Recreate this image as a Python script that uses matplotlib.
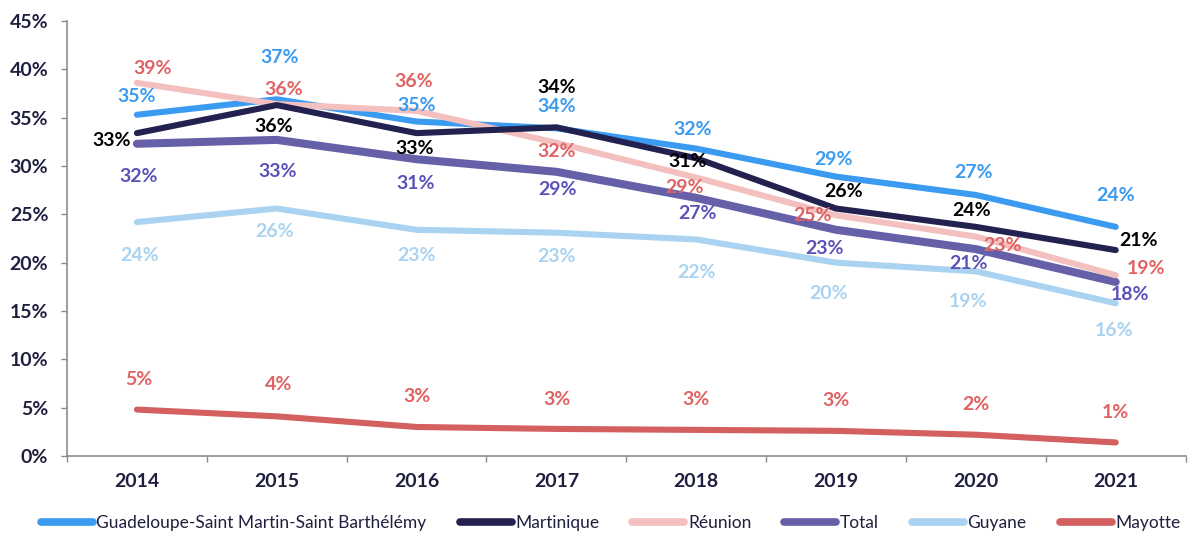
import numpy as np
import matplotlib
matplotlib.use("Agg")
import matplotlib.pyplot as plt
from matplotlib.lines import Line2D

years = ["2014", "2015", "2016", "2017", "2018", "2019", "2020", "2021"]

guadeloupe = [35.3, 36.9, 34.6, 33.9, 31.8, 28.9, 27.0, 23.7]
martinique = [33.4, 36.3, 33.4, 34.0, 30.8, 25.6, 23.7, 21.3]
reunion = [38.6, 36.4, 35.7, 32.4, 28.8, 24.9, 22.7, 18.7]
total = [32.3, 32.7, 30.7, 29.4, 26.7, 23.4, 21.4, 18.0]
guyane = [24.2, 25.6, 23.4, 23.1, 22.4, 20.0, 19.1, 15.8]
mayotte = [4.8, 4.1, 3.0, 2.8, 2.7, 2.6, 2.2, 1.4]

series_names = ["Guadeloupe-Saint Martin-Saint Barthélémy", "Martinique", "Réunion",
                "Total", "Guyane", "Mayotte"]

# style: line colour, label colour, line width, z-order
styles = {
    "Guadeloupe-Saint Martin-Saint Barthélémy": ("#3A9BF0", "#3A9BF0", 4.4, 3),
    "Martinique": ("#22214F", "#000000", 4.4, 5),
    "Réunion": ("#F4BFBF", "#E06262", 4.4, 4),
    "Total": ("#6560A8", "#5B52B8", 5.8, 2),
    "Guyane": ("#A9D3F0", "#A9D3F0", 4.4, 2),
    "Mayotte": ("#D45F5F", "#E06262", 4.4, 2),
}

# label offsets in pixels from each point
offsets = {
    "Guadeloupe-Saint Martin-Saint Barthélémy": [(0, 18), (3, 42), (0, 16), (0, 22), (-4, 19), (-3, 17), (-2, 22), (0, 31)],
    "Martinique": [(-25, -7), (-3, -21), (-2, -15), (0, 40), (-9, -3), (8, 17), (-4, 16), (23, 10)],
    "Réunion": [(16, 14), (7, 15), (-3, 29), (0, -9), (-12, -10), (-24, 0), (27, -9), (30, 7)],
    "Total": [(2, -33), (1, -32), (-1, -24), (1, -18), (1, -16), (-12, -19), (-7, -14), (14, -13)],
    "Guyane": [(3, -33), (-2, -23), (0, -26), (0, -24), (0, -33), (-7, -31), (-8, -30), (-2, -27)],
    "Mayotte": [(2, 30), (2, 32), (0, 30), (1, 29), (0, 30), (0, 30), (0, 30), (0, 30)],
}

data = dict(zip(series_names, [guadeloupe, martinique, reunion, total, guyane, mayotte]))

plt.rcParams["font.family"] = ["Lato", "DejaVu Sans"]
dark = "#1F1F3F"

fig = plt.figure(figsize=(11.88, 5.33), dpi=100)
ax = fig.add_axes([0.0564, 0.1445, 0.9416, 0.8161])

x = np.arange(len(years))
for name in series_names:
    lc, tc, lw, z = styles[name]
    vals = data[name]
    ax.plot(x, vals, color=lc, lw=lw, solid_capstyle="round", solid_joinstyle="round", zorder=z)
    for xi, v, (dx, dy) in zip(x, vals, offsets[name]):
        ax.annotate(f"{v:.0f}%", (xi, v), xytext=(dx, dy), textcoords="offset pixels",
                    ha="center", va="center", color=tc, fontsize=14, fontweight="bold", zorder=6)

ax.set_xlim(-0.5, len(years) - 0.5)
ax.set_ylim(0, 45)
ax.set_yticks(np.arange(0, 46, 5))
ax.set_yticklabels([f"{t}%" for t in range(0, 46, 5)])
ax.set_xticks(x)
ax.set_xticklabels(years)
ax.set_xticks(np.arange(-0.5, len(years), 1), minor=True)
ax.tick_params(axis="x", which="major", length=0, pad=12, labelsize=14, labelcolor=dark)
ax.tick_params(axis="x", which="minor", length=4.5, color="#8C8C8C", width=1)
ax.tick_params(axis="y", length=4.5, color="#8C8C8C", width=1, pad=9, labelsize=14, labelcolor=dark)
for lab in ax.get_xticklabels() + ax.get_yticklabels():
    lab.set_fontweight("bold")

for s in ["top", "right"]:
    ax.spines[s].set_visible(False)
for s in ["left", "bottom"]:
    ax.spines[s].set_color("#8C8C8C")
    ax.spines[s].set_linewidth(1.2)

handles = [Line2D([], [], color=styles[n][0], lw=5.5, solid_capstyle="round") for n in series_names]
fig.legend(handles, series_names, loc="center", bbox_to_anchor=(0.514, 0.018), ncol=6, frameon=False,
           handlelength=3.0, handletextpad=0.2, columnspacing=1.9, fontsize=12.5,
           labelcolor=dark)

fig.savefig("out.png", dpi=100)
